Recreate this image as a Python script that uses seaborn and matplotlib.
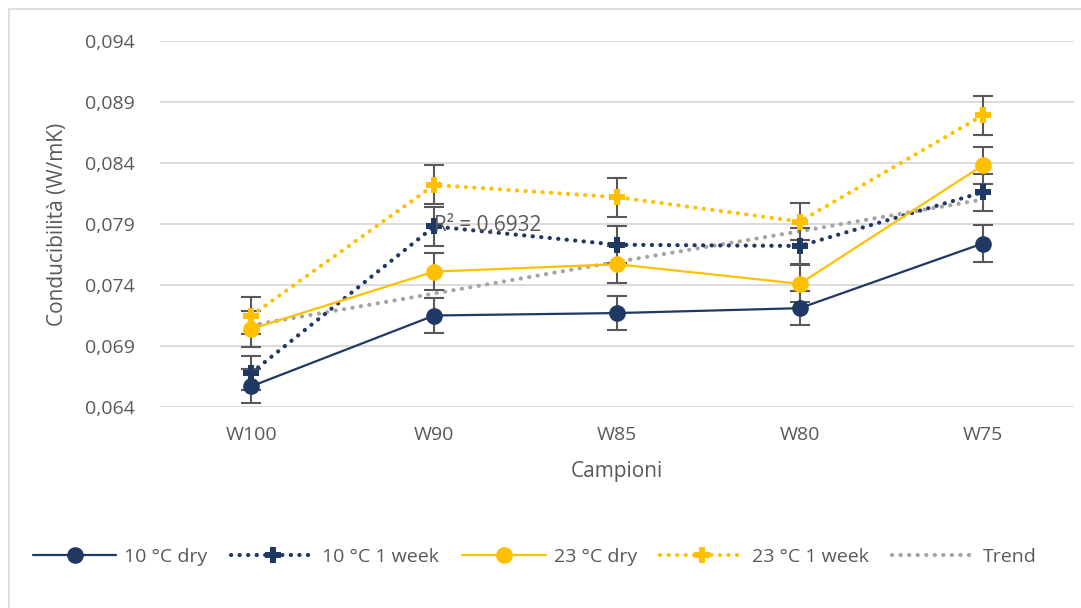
import numpy as np
import pandas as pd
import matplotlib
matplotlib.use("Agg")
import matplotlib.pyplot as plt
import seaborn as sns
from matplotlib.ticker import FuncFormatter, FixedLocator
from matplotlib.patches import Rectangle
from matplotlib.lines import Line2D

samples = ["W100", "W90", "W85", "W80", "W75"]
dry10 = [0.0657, 0.0715, 0.0717, 0.0721, 0.0774]
week10 = [0.0668, 0.0788, 0.0773, 0.0772, 0.0816]
dry23 = [0.0704, 0.0751, 0.0757, 0.0741, 0.0838]
week23 = [0.0715, 0.0822, 0.0812, 0.0792, 0.0879]
trend_vals = [0.0707, 0.0733, 0.0759, 0.0784, 0.0810]
err10dry = [0.0014, 0.0014, 0.0014, 0.0014, 0.0015]
err10week = [0.0014, 0.0016, 0.0015, 0.0015, 0.0015]
err23dry = [0.0015, 0.0015, 0.0015, 0.0015, 0.0015]
err23week = [0.0015, 0.0016, 0.0016, 0.0015, 0.0016]
series_names = ["10 °C dry", "10 °C 1 week", "23 °C dry", "23 °C 1 week"]
r2_label = "R² = 0,6932"

NAVY = "#203864"
YELLOW = "#FFC000"
GRAY = "#A5A5A5"
TEXT = "#595959"
DOT = (0, (0.05, 2.0))

sns.set_theme(style="white")
plt.rcParams["font.family"] = ["Open Sans", "DejaVu Sans"]

fig = plt.figure(figsize=(10.81, 6.08), dpi=100)
ax = fig.add_axes([160 / 1081, 1 - 407 / 608, (1074 - 160) / 1081, (407 - 41) / 608])
fig.patches.append(Rectangle((9 / 1081, -0.1), 1.2, 1 - 9 / 608 + 0.1, transform=fig.transFigure,
                             fill=False, edgecolor="#D9D9D9", linewidth=1.2))

x = np.arange(len(samples))
df = pd.DataFrame({"x": np.tile(x, 4),
                   "y": dry10 + week10 + dry23 + week23,
                   "s": np.repeat(series_names, len(samples))})

styles = {
    "10 °C dry": dict(color=NAVY, ls="-", marker="o", lw=1.6, ms=12),
    "10 °C 1 week": dict(color=NAVY, ls=DOT, marker="P", lw=3, ms=11.5),
    "23 °C dry": dict(color=YELLOW, ls="-", marker="o", lw=1.6, ms=12),
    "23 °C 1 week": dict(color=YELLOW, ls=DOT, marker="P", lw=3, ms=11.5),
}
errs = {"10 °C dry": err10dry, "10 °C 1 week": err10week, "23 °C dry": err23dry, "23 °C 1 week": err23week}

tdf = pd.DataFrame({"x": x, "y": trend_vals})
sns.lineplot(data=tdf, x="x", y="y", ax=ax, color=GRAY, linestyle=DOT, linewidth=3,
             dash_capstyle="round", zorder=2, legend=False)

for name in series_names:
    st = styles[name]
    sub = df[df["s"] == name]
    ax.errorbar(sub["x"], sub["y"], yerr=errs[name], fmt="none", ecolor="#595959",
                elinewidth=1.5, capsize=7, capthick=1.5, zorder=3)
    sns.lineplot(data=sub, x="x", y="y", ax=ax, color=st["color"], linestyle=st["ls"],
                 linewidth=st["lw"], marker=st["marker"], markersize=st["ms"],
                 markeredgecolor=st["color"], markeredgewidth=0, zorder=4,
                 legend=False, dash_capstyle="round")

ax.text(1.0, 0.0789, r2_label, fontsize=15, color=TEXT, va="center", ha="left", zorder=6)

ax.set_xlim(-0.5, len(samples) - 0.5)
ax.set_ylim(0.064, 0.094)
ax.yaxis.set_major_locator(FixedLocator([0.064, 0.069, 0.074, 0.079, 0.084, 0.089, 0.094]))
ax.yaxis.set_major_formatter(FuncFormatter(lambda v, p: f"{v:.3f}".replace(".", ",")))
ax.set_xticks(x)
ax.set_xticklabels(samples)
ax.grid(axis="y", color="#D9D9D9", linewidth=1.3)
ax.set_axisbelow(True)
for sp in ax.spines.values():
    sp.set_visible(False)
ax.tick_params(axis="both", length=0, labelsize=14, colors=TEXT, pad=18)
ax.tick_params(axis="x", pad=14)
ax.set_xlabel("Campioni", fontsize=15, color=TEXT, labelpad=12)
ax.set_ylabel("Conducibilità (W/mK)", fontsize=15, color=TEXT, labelpad=12)

handles = [Line2D([], [], color=styles[n]["color"], ls=styles[n]["ls"], lw=styles[n]["lw"],
                  marker=styles[n]["marker"], ms=styles[n]["ms"], markeredgewidth=0,
                  dash_capstyle="round") for n in series_names]
handles.append(Line2D([], [], color=GRAY, ls=DOT, lw=3, dash_capstyle="round"))
labels = series_names + ["Trend"]
fig.legend(handles, labels, loc="center", bbox_to_anchor=(535 / 1081, 1 - 557 / 608), ncol=5,
           frameon=False, fontsize=14, labelcolor=TEXT, handlelength=4.3, columnspacing=1.2,
           handletextpad=0.4)

fig.savefig("out.png", dpi=100)
